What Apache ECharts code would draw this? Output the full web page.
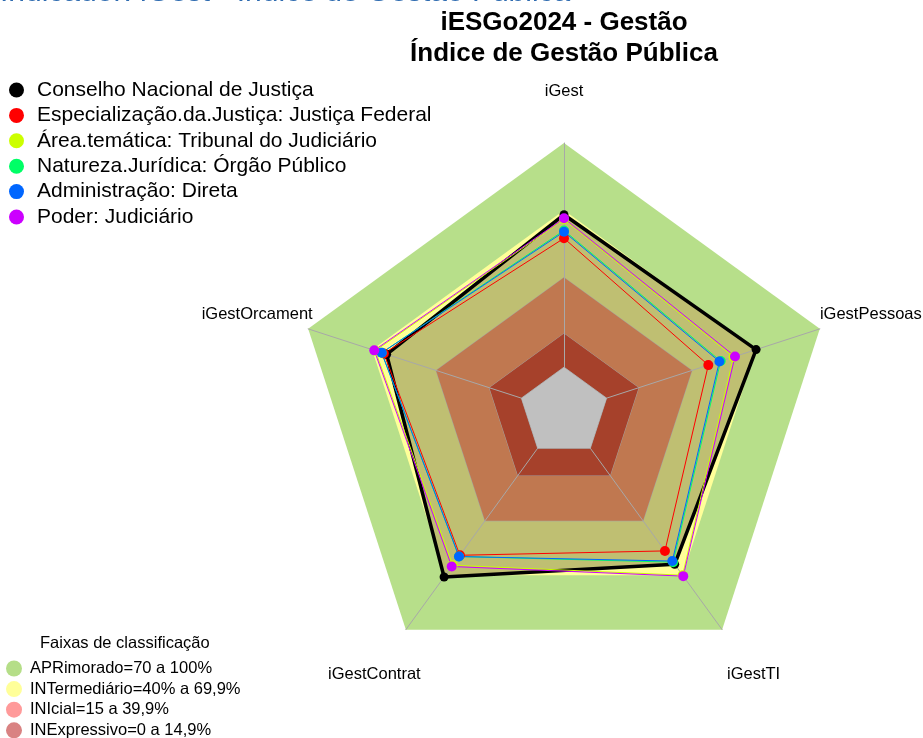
<!DOCTYPE html>
<html><head><meta charset="utf-8">
<script src="https://cdn.jsdelivr.net/npm/echarts@6/dist/echarts.min.js"></script>
<style>html,body{margin:0;padding:0;background:#fff}#chart{width:923px;height:738px}</style>
</head><body><div id="chart"></div>
<script>
// ---- data ----
const indicators = ['iGest', 'iGestOrcament', 'iGestContrat', 'iGestTI', 'iGestPessoas'];
const seriesNames = [
  'Conselho Nacional de Justiça',
  'Especialização.da.Justiça: Justiça Federal',
  'Área.temática: Tribunal do Judiciário',
  'Natureza.Jurídica: Órgão Público',
  'Administração: Direta',
  'Poder: Judiciário'
];
const cnj       = [68.0, 63.2, 71.0, 64.0, 70.1];
const jusFed    = [57.5, 64.5, 59.0, 56.6, 47.7];
const tribJud   = [66.0, 68.5, 64.5, 70.0, 59.5];
const orgPub    = [61.0, 65.5, 59.7, 62.8, 53.5];
const admDireta = [60.4, 65.5, 59.7, 62.2, 52.9];
const podJud    = [66.4, 69.0, 65.2, 70.5, 60.2];
const seriesValues = [cnj, jusFed, tribJud, orgPub, admDireta, podJud];

const bandNames = ['APRimorado=70 a 100%', 'INTermediário=40% a 69,9%', 'INIcial=15 a 39,9%', 'INExpressivo=0 a 14,9%'];
const bandLevels = [100, 70, 40, 15];
const centerLevel = 0;
const axisMin = -20, axisMax = 100;

// ---- styles ----
const lineColors = ['#000000', '#FF0000', '#CCFF00', '#00FF66', '#0066FF', '#CC00FF'];
const bandPlotColors = ['#B7DF8A', '#FFFF99', '#C07850', '#A6412B'];
const bandLegendColors = ['#B5DE88', '#FFFF99', '#FF9A9A', '#D98282'];
const FONT = '"Liberation Sans", Arial, sans-serif';

const labelRich = {
  k0: {padding: [0, 0, 43, 0], align: 'center'},
  k1: {width: 102, align: 'center', padding: [0, 0, 28, 0]},
  k2: {width: 63, align: 'center', padding: [90, 0, 0, 0]},
  k3: {width: 63, align: 'center', padding: [90, 0, 0, 0]},
  k4: {width: 102, align: 'center', padding: [0, 0, 28, 0]}
};
Object.values(labelRich).forEach(r => { r.fontSize = 16.5; r.fontFamily = FONT; r.color = '#000'; });

function bandSeries(i, z, border) {
  return {
    type: 'radar', name: bandNames[i], z: z, silent: true, symbol: 'none',
    itemStyle: {color: bandLegendColors[i]},
    lineStyle: border ? {color: '#A3A3A3', width: 1} : {width: 0, opacity: 0},
    areaStyle: {color: bandPlotColors[i], opacity: 1},
    data: [{value: indicators.map(() => bandLevels[i])}]
  };
}

const series = [
  bandSeries(0, 2, false),
  bandSeries(1, 2, false),
  {
    type: 'radar', name: 'cnjArea', z: 2, silent: true, symbol: 'none',
    lineStyle: {width: 0, opacity: 0},
    areaStyle: {color: 'rgba(0,0,0,0.25)', opacity: 1},
    data: [{value: cnj}]
  },
  bandSeries(2, 2, true),
  bandSeries(3, 2, true),
  {
    type: 'radar', name: 'centro', z: 6, silent: true, symbol: 'none',
    lineStyle: {color: '#A3A3A3', width: 1},
    areaStyle: {color: '#C0C0C0', opacity: 1},
    data: [{value: indicators.map(() => centerLevel)}]
  }
];
seriesNames.forEach((n, i) => {
  series.push({
    type: 'radar', name: n, z: 7, silent: true,
    symbol: 'circle', symbolSize: i === 0 ? 9 : 10,
    itemStyle: {color: lineColors[i], borderWidth: 0},
    lineStyle: {color: lineColors[i], width: i === 0 ? 3.5 : 1},
    data: [{value: seriesValues[i]}]
  });
});

const chart = echarts.init(document.getElementById('chart'), null, {renderer: 'canvas'});
chart.setOption({
  animation: false,
  backgroundColor: '#fff',
  title: [
    {text: 'Indicador: iGest - Índice de Gestão Pública', left: 0, top: -22, padding: 0,
     textStyle: {fontSize: 30, fontWeight: 'normal', color: '#2E6BB0', fontFamily: FONT}},
    {text: 'iESGo2024 - Gestão\nÍndice de Gestão Pública', left: 564, top: 7, padding: 0, textAlign: 'center',
     textStyle: {fontSize: 26, fontWeight: 'bold', color: '#000', lineHeight: 31,
       fontFamily: '"Liberation Sans Narrow", "Arial Narrow", ' + FONT}},
    {text: 'Faixas de classificação', left: 40, top: 634.5, padding: 0,
     textStyle: {fontSize: 16.5, fontWeight: 'normal', color: '#000', lineHeight: 17, fontFamily: FONT}}
  ],
  legend: [
    {data: seriesNames, orient: 'vertical', left: 9, top: 79.5, padding: 0, icon: 'circle',
     itemWidth: 15, itemHeight: 15, itemGap: 4.4, selectedMode: false,
     textStyle: {fontSize: 21, lineHeight: 21, color: '#000', fontFamily: FONT, padding: [0, 0, 0, 8]}},
    {data: bandNames, orient: 'vertical', left: 6, top: 660, height: 120, width: 300, padding: 0, icon: 'circle',
     itemWidth: 16, itemHeight: 16, itemGap: 3.6, selectedMode: false,
     textStyle: {fontSize: 16.5, lineHeight: 16, color: '#000', fontFamily: FONT, padding: [0, 0, 0, 3]}}
  ],
  radar: {
    center: [564, 412], radius: 269, startAngle: 90, shape: 'polygon', z: 5,
    splitNumber: 6, axisNameGap: 0,
    indicator: indicators.map(n => ({name: n, min: axisMin, max: axisMax})),
    axisName: {
      formatter: (name) => '{k' + indicators.indexOf(name) + '|' + name + '}',
      rich: labelRich, color: '#000', fontSize: 16.5, fontFamily: FONT
    },
    axisLine: {lineStyle: {color: '#A8A8A8', width: 1}},
    splitLine: {show: false},
    splitArea: {show: false},
    axisTick: {show: false},
    axisLabel: {show: false}
  },
  series: series
});
</script></body></html>
